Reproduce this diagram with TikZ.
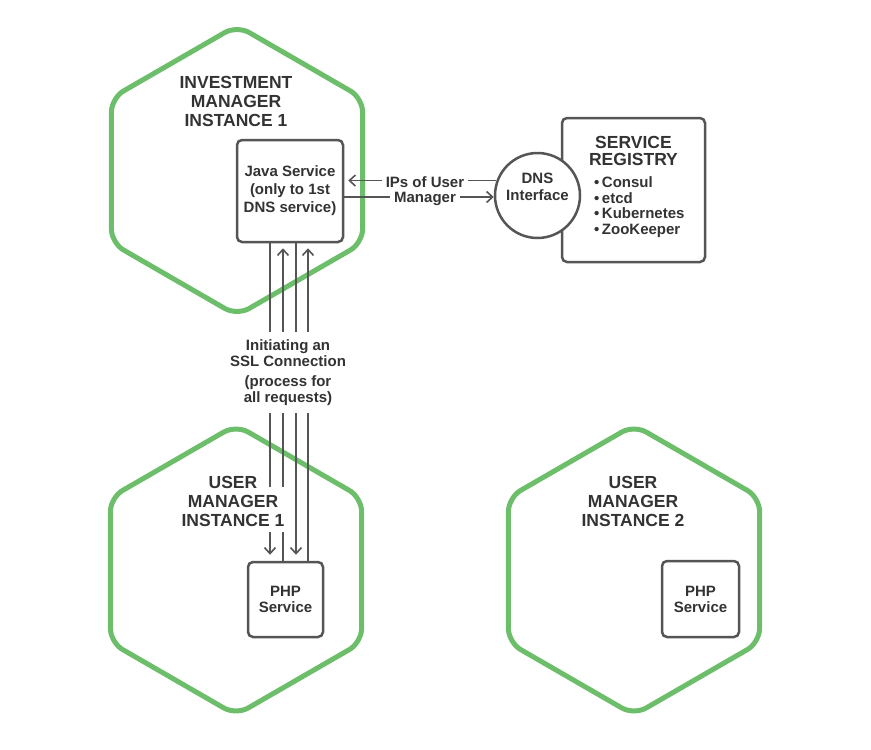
\documentclass[tikz,border=0pt]{standalone}
\usepackage{fontspec}
\setmainfont{Liberation Sans}
\usetikzlibrary{arrows.meta}
\definecolor{hexgreen}{RGB}{109,190,106}
\definecolor{boxgray}{RGB}{85,85,85}
\definecolor{txtgray}{RGB}{51,51,51}
\newcommand\txttitle{\fontsize{17.5}{19}\selectfont\bfseries}
\newcommand\txtsmall{\fontsize{15}{18}\selectfont\bfseries}
\newcommand\txtlist{\fontsize{15}{15.7}\selectfont\bfseries}
\newcommand\hexat[2]{\draw[hexline] (#1,#2) ++(125.6,0) -- ++(0,72.5) -- ++(-125.6,72.5) -- ++(-125.6,-72.5) -- ++(0,-145) -- ++(125.6,-72.5) -- ++(125.6,72.5) -- cycle;}
\tikzset{
  hexline/.style={draw=hexgreen, line width=5pt, rounded corners=14pt, line join=round},
  svcbox/.style={draw=boxgray, line width=2.5pt, rounded corners=5pt, fill=white, align=center, text=txtgray, font=\txtsmall, inner sep=0pt},
  titletext/.style={align=center, text=txtgray, font=\txttitle},
  lbl/.style={align=center, text=txtgray, font=\txtsmall, fill=white},
  conn/.style={draw=boxgray, line width=1.6pt},
  arr/.style={conn, -{Straight Barb[length=6pt,width=11pt]}}
}
\begin{document}
\begin{tikzpicture}[x=1pt,y=-1pt]
\useasboundingbox (0,0) rectangle (871,750);
% hexagons
\hexat{237}{170.5}
\hexat{236}{570}
\hexat{634}{570}
% boxes
\node[svcbox, minimum width=106pt, minimum height=102pt] (java) at (290,191) {Java Service\\(only to 1st\\DNS service)};
\node[svcbox, minimum width=143pt, minimum height=144pt] (reg) at (633.5,190) {};
\node[titletext, font=\fontsize{17.5}{17}\selectfont\bfseries] (regtitle) at (633.5,150.5) {SERVICE\\REGISTRY};
\node[text=txtgray, font=\txtlist, align=left, anchor=west, inner sep=0pt] (reglist) at (594,207) {•\,Consul\\•\,etcd\\•\,Kubernetes\\•\,ZooKeeper};
\node[draw=boxgray, line width=2.5pt, fill=white, circle, minimum size=85pt, inner sep=0pt] (dns) at (537.5,195.5) {};
\node[text=txtgray, font=\fontsize{15}{17}\selectfont\bfseries, align=center] (dnstext) at (537.5,186.5) {DNS\\Interface};
\node[svcbox, minimum width=75pt, minimum height=75pt, font=\fontsize{15}{16}\selectfont\bfseries] (php1) at (285.5,599.5) {PHP\\Service};
\node[svcbox, minimum width=77pt, minimum height=76pt, font=\fontsize{15}{16}\selectfont\bfseries] (php2) at (700.5,599) {PHP\\Service};
% DNS <-> Java
\draw[arr, shorten >=4pt] (dns.160) -- (java.east |- dns.160);
\draw[arr] (java.east |- 0,197) -- (dns.west |- 0,197);
% Java <-> PHP
\draw[arr, shorten >=6pt] (270,0 |- java.south) -- (270,0 |- php1.north);
\draw[arr, shorten >=5pt] (283,0 |- php1.north) -- (283,0 |- java.south);
\draw[arr, shorten >=6pt] (296,0 |- java.south) -- (296,0 |- php1.north);
\draw[arr, shorten >=5pt] (308,0 |- php1.north) -- (308,0 |- java.south);
% labels
\node[lbl, anchor=base, inner xsep=4pt, inner ysep=2pt] (ips1) at (425,187.5) {IPs of User};
\node[lbl, anchor=base, inner xsep=4pt, inner ysep=2pt] (ips2) at (425,202.5) {Manager};
\node[lbl, font=\fontsize{15}{16}\selectfont\bfseries, inner xsep=2pt, inner ysep=8pt] (ssl) at (288,372.5) {Initiating an\\SSL Connection\\[4pt](process for\\all requests)};
% titles
\node[titletext] (t1) at (236,101.5) {INVESTMENT\\MANAGER\\INSTANCE 1};
\fill[white] (264,487) rectangle (290,532);
\node[titletext] (t2) at (233,501.5) {USER\\MANAGER\\INSTANCE 1};
\node[titletext] (t3) at (633,501.5) {USER\\MANAGER\\INSTANCE 2};
\end{tikzpicture}
\end{document}
